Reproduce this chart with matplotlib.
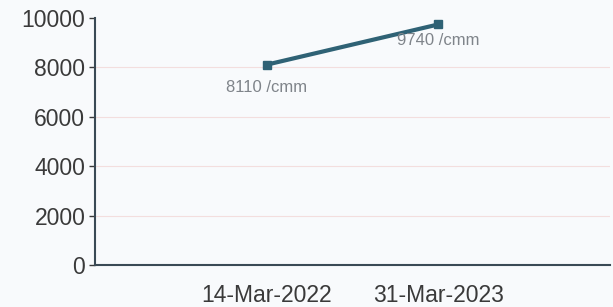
import matplotlib.pyplot as plt

dates = ['14-Mar-2022', '31-Mar-2023']
values = [8110, 9740]
labels = ['8110 /cmm', '9740 /cmm']
yticks = [0, 2000, 4000, 6000, 8000, 10000]

plt.rcParams['font.family'] = ['Liberation Sans', 'DejaVu Sans']

fig = plt.figure(figsize=(6.13, 3.07), dpi=100)
fig.patch.set_facecolor('#f8fafc')
ax = fig.add_axes([95/613, 1 - 265/307, 515/613, (265-18)/307])
ax.set_facecolor('#f8fafc')

x = list(range(len(dates)))
ax.plot(x, values, color='#2f6275', linewidth=3, marker='s', markersize=6)

# value labels under each point
offsets = [-22, -17]
for xi, v, lab, off in zip(x, values, labels, offsets):
    ax.annotate(lab, (xi, v), xytext=(0, off), textcoords='offset points',
                ha='center', va='bottom', fontsize=12, color='#7f848a')

ax.set_xlim(-1, 2)
ax.set_ylim(0, 10000)
ax.set_yticks(yticks)
ax.set_xticks(x)
ax.set_xticklabels(dates)

for yt in yticks[1:-1]:
    ax.axhline(yt, color='#f3dede', linewidth=0.8, zorder=0)

for s in ['top', 'right']:
    ax.spines[s].set_visible(False)
ax.spines['left'].set_color('#3a4a55')
ax.spines['bottom'].set_color('#3a4a55')
ax.spines['left'].set_linewidth(1.5)
ax.spines['bottom'].set_linewidth(1.5)

ax.tick_params(axis='y', labelsize=16.5, colors='#3a3a3a', length=4, width=1, pad=3)
ax.tick_params(axis='x', labelsize=16.5, colors='#3a3a3a', length=0, pad=14)

fig.savefig('out.png', dpi=100, facecolor=fig.get_facecolor())
